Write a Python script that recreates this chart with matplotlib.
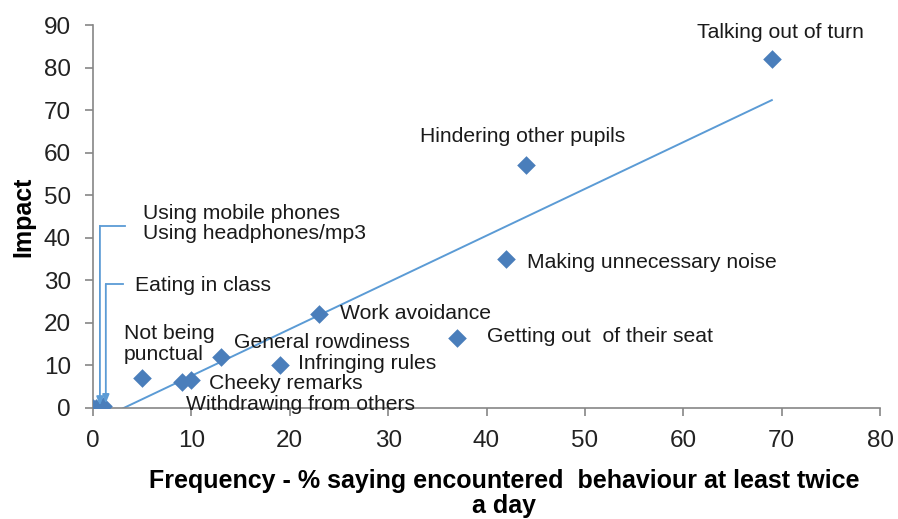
import matplotlib
matplotlib.use("Agg")
import matplotlib.pyplot as plt
import numpy as np

plt.rcParams['font.family'] = ['Liberation Sans', 'DejaVu Sans']

behaviours = ["Talking out of turn", "Hindering other pupils", "Making unnecessary noise",
              "Getting out  of their seat", "Work avoidance", "General rowdiness",
              "Infringing rules", "Not being\npunctual", "Cheeky remarks",
              "Withdrawing from others", "Using mobile phones", "Using headphones/mp3",
              "Eating in class"]
frequency = [69, 44, 42, 37, 23, 13, 19, 5, 10, 9, 0, 0.3, 1]
impact = [82, 57, 35, 16.5, 22, 12, 10, 7, 6.5, 6, 0, 0, 0.5]

xticks = list(range(0, 81, 10))
yticks = list(range(0, 91, 10))

blue = "#4a7ebb"
line_blue = "#5b9bd5"
grey = "#868686"

fig = plt.figure(figsize=(8.98, 5.19), dpi=100)
ax = fig.add_axes([0.1036, 0.2139, 0.8764, 0.7379])

# trendline (linear fit)
coef = np.polyfit(frequency, impact, 1)
xs = np.array([0, max(frequency)])
ax.plot(xs, np.polyval(coef, xs), color=line_blue, lw=1.4, zorder=2)

ax.scatter(frequency, impact, marker='D', s=90, color=blue, zorder=3, linewidths=0)

ax.set_xlim(0, 80)
ax.set_ylim(0, 90)
ax.set_xticks(xticks)
ax.set_yticks(yticks)
for s in ['top', 'right']:
    ax.spines[s].set_visible(False)
for s in ['left', 'bottom']:
    ax.spines[s].set_color(grey)
    ax.spines[s].set_linewidth(1.2)
ax.tick_params(axis='both', colors=grey, length=6, width=1.2, labelsize=17.5, labelcolor='#222222')
ax.tick_params(axis='x', pad=10)
ax.tick_params(axis='y', pad=10)

fs = 15.2
lab = dict(fontsize=fs, color='#1a1a1a', va='center', ha='left')
ax.text(61.4, 88.3, behaviours[0], **lab)
ax.text(33.2, 63.7, behaviours[1], **lab)
ax.text(44.1, 34.3, behaviours[2], **lab)
ax.text(40.0, 16.7, behaviours[3], **lab)
ax.text(25.1, 22.3, behaviours[4], **lab)
ax.text(14.3, 15.3, behaviours[5], **lab)
ax.text(20.8, 10.5, behaviours[6], **lab)
ax.text(3.1, 15.0, behaviours[7], linespacing=1.15, **lab)
ax.text(11.8, 5.8, behaviours[8], **lab)
ax.text(9.5, 0.9, behaviours[9], clip_on=False, **lab)
ax.text(5.1, 45.8, behaviours[10], **lab)
ax.text(5.1, 40.9, behaviours[11], **lab)
ax.text(4.3, 28.9, behaviours[12], **lab)

# leader lines
for (px, py), (cx, cy), ex in [((frequency[11], impact[11]), (0.7, 42.8), 3.3),
                               ((frequency[12], impact[12]), (1.3, 29.1), 3.0)]:
    ax.plot([cx, ex], [cy, cy], color=line_blue, lw=1.3, clip_on=False, zorder=2)
    ax.annotate('', xy=(cx, py + 0.6), xytext=(cx, cy),
                arrowprops=dict(arrowstyle='-|>,head_length=0.5,head_width=0.2',
                                color=line_blue, lw=1.3, shrinkA=0, shrinkB=0))

ax.set_ylabel("Impact", fontsize=18, fontweight='bold', labelpad=6)
ax.set_xlabel("Frequency - % saying encountered  behaviour at least twice\na day",
              fontsize=18, fontweight='bold', labelpad=12, linespacing=1.05)
ax.xaxis.label.set_x(0.522)

fig.savefig("out.png", dpi=100)
